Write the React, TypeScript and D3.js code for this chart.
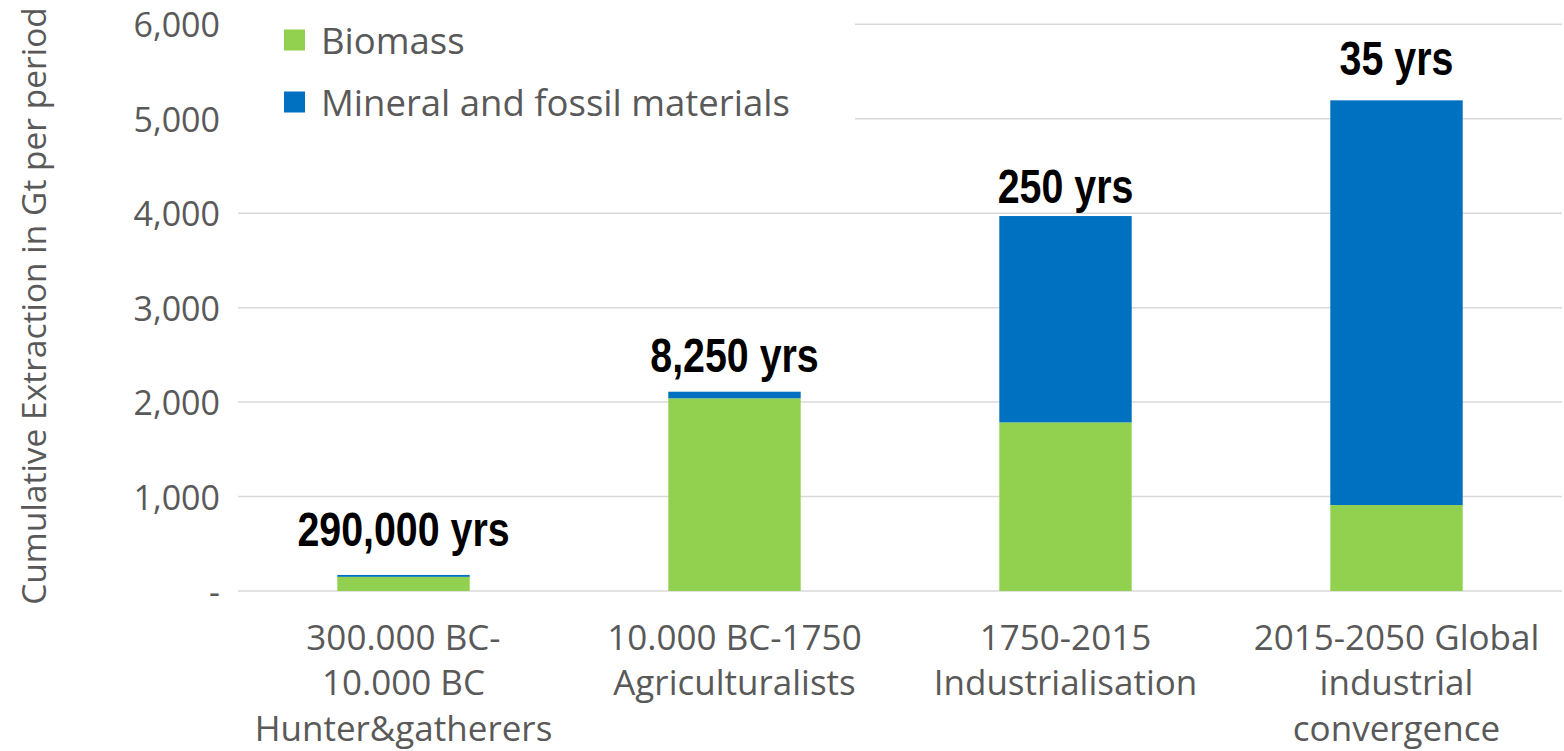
import React from "react";
import * as d3 from "d3";

const categories = [
  ["300.000 BC-", "10.000 BC", "Hunter&gatherers"],
  ["10.000 BC-1750", "Agriculturalists"],
  ["1750-2015", "Industrialisation"],
  ["2015-2050 Global", "industrial", "convergence"],
];
const categoryKeys = ["hunter", "agri", "industrial", "global"];
const biomass = [150, 2040, 1785, 910];
const mineral = [20, 70, 2185, 4285];
const durationLabels = ["290,000 yrs", "8,250 yrs", "250 yrs", "35 yrs"];
const yTicks = [0, 1000, 2000, 3000, 4000, 5000, 6000];
const seriesNames = ["Biomass", "Mineral and fossil materials"];

const W = 1564;
const H = 751;
const GREEN = "#92D050";
const BLUE = "#0070C0";
const GRID = "#D9D9D9";
const TEXT = "#595959";
const FONT = "'Open Sans', sans-serif";
const labelDy = [-29, -20, -13, -25];
const legendY = [40, 102];

export default function App() {
  const x = d3
    .scaleBand<string>()
    .domain(categoryKeys)
    .range([238, 1562])
    .paddingInner(0.6)
    .paddingOuter(0.3);
  const y = d3.scaleLinear().domain([0, 6000]).range([591, 24.3]);
  const fmt = (v: number) => (v === 0 ? "-" : d3.format(",")(v));

  const stacked = d3.stack<any>().keys(["biomass", "mineral"])(
    categoryKeys.map((k, i) => ({ key: k, biomass: biomass[i], mineral: mineral[i] }))
  );
  const colors = [GREEN, BLUE];

  return (
    <div style={{ position: "fixed", left: 0, top: 0, background: "#fff" }}>
      <svg width={W} height={H} style={{ display: "block" }}>
        <rect x={0} y={0} width={W} height={H} fill="#fff" />
        {yTicks.map((t) => (
          <g key={t}>
            <line x1={238} x2={1562} y1={y(t)} y2={y(t)} stroke={GRID} strokeWidth={1.5} />
            <text
              x={220}
              y={y(t)}
              textAnchor="end"
              dominantBaseline="central"
              fontFamily={FONT}
              fontSize={34}
              fill={TEXT}
            >
              {fmt(t)}
            </text>
          </g>
        ))}
        {/* legend background */}
        <rect x={238} y={0} width={617} height={140} fill="#fff" />
        {stacked.map((s, si) =>
          s.map((d, i) => (
            <rect
              key={si + "-" + i}
              x={x(categoryKeys[i])}
              width={x.bandwidth()}
              y={y(d[1])}
              height={y(d[0]) - y(d[1])}
              fill={colors[si]}
            />
          ))
        )}
        {durationLabels.map((l, i) => {
          const cx = (x(categoryKeys[i]) as number) + x.bandwidth() / 2;
          const ty = y(biomass[i] + mineral[i]) + labelDy[i];
          return (
            <text
              key={l}
              transform={`translate(${cx},${ty}) scale(0.82,1)`}
              textAnchor="middle"
              fontFamily="'Liberation Sans', Arial, sans-serif"
              fontWeight="bold"
              fontSize={48}
              fill="#000"
            >
              {l}
            </text>
          );
        })}
        {categories.map((lines, i) => {
          const cx = (x(categoryKeys[i]) as number) + x.bandwidth() / 2;
          return (
            <text
              key={i}
              textAnchor="middle"
              fontFamily={FONT}
              fontSize={35}
              fill={TEXT}
            >
              {lines.map((ln, j) => (
                <tspan key={j} x={cx} y={636 + j * 45.5} dominantBaseline="central">
                  {ln}
                </tspan>
              ))}
            </text>
          );
        })}
        {seriesNames.map((n, i) => (
          <g key={n}>
            <rect x={284} y={legendY[i] - 10.5} width={21} height={21} fill={colors[i]} />
            <text
              x={321}
              y={legendY[i]}
              dominantBaseline="central"
              fontFamily={FONT}
              fontSize={36.5}
              fill={TEXT}
            >
              {n}
            </text>
          </g>
        ))}
        <text
          transform={`translate(33,306) rotate(-90)`}
          textAnchor="middle"
          dominantBaseline="central"
          fontFamily={FONT}
          fontSize={33.5}
          fill={TEXT}
        >
          Cumulative Extraction in Gt per period
        </text>
      </svg>
    </div>
  );
}
